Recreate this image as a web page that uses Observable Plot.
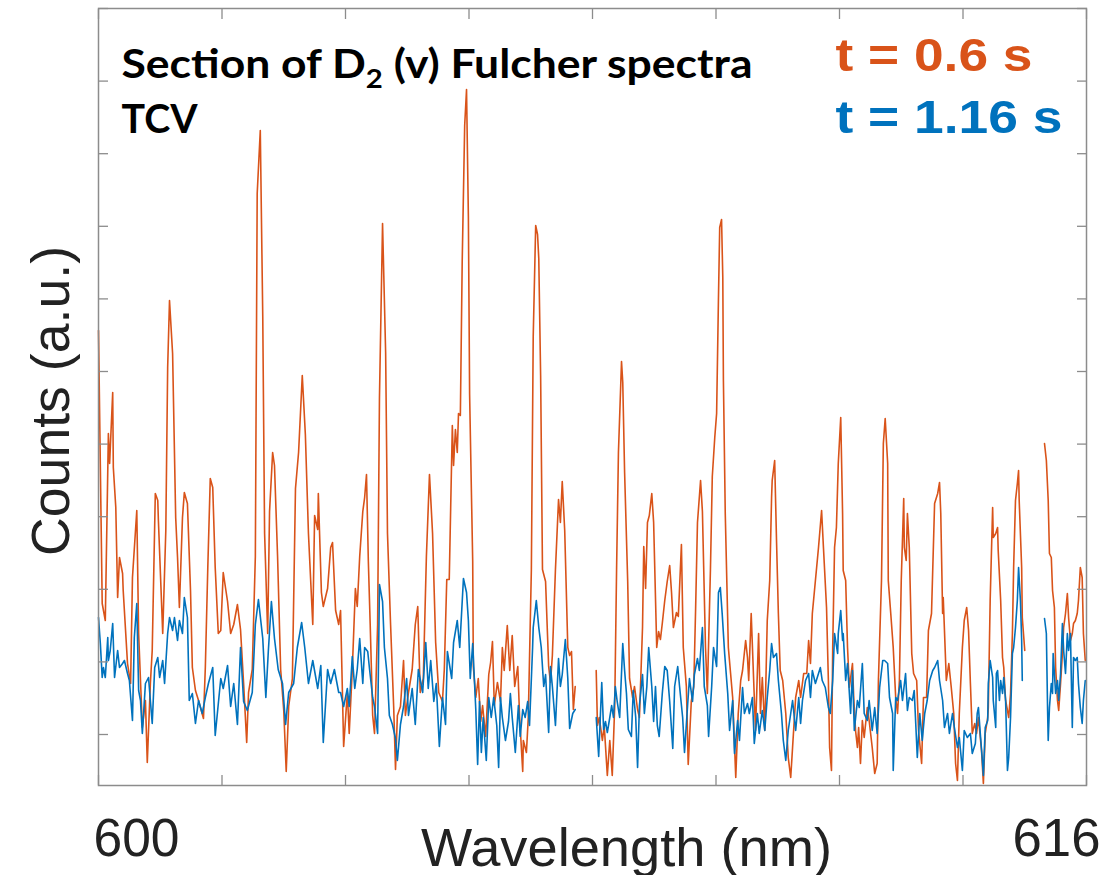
<!DOCTYPE html>
<html>
<head>
<meta charset="utf-8">
<script src="https://cdn.jsdelivr.net/npm/d3@7"></script>
<script src="https://cdn.jsdelivr.net/npm/@observablehq/plot@0.6"></script>
<style>
  html, body { margin: 0; padding: 0; background: #fff; }
  #chart { width: 1119px; height: 875px; }
</style>
</head>
<body>
<div id="chart"></div>
<script>
// ---------------- data ----------------
// wavelength in nm; counts in arbitrary units; null = no data (detector gap)
const orangeWl = [
600.00,600.06,600.11,600.16,600.18,600.23,600.24,600.28,600.31,600.34,
600.39,600.40,600.47,600.52,600.55,600.62,600.65,600.71,600.76,600.79,
600.84,600.87,600.92,600.96,600.97,601.04,601.09,601.12,601.15,601.20,
601.25,601.28,601.31,601.36,601.39,601.44,601.49,601.52,601.57,601.62,
601.70,601.73,601.77,601.81,601.85,601.89,601.94,601.98,602.02,602.09,
602.14,602.19,602.25,602.30,602.35,602.40,602.43,602.49,602.54,602.57,
602.62,602.66,602.69,602.74,602.77,602.82,602.85,602.90,602.95,603.00,
603.04,603.08,603.14,603.19,603.24,603.30,603.35,603.40,603.47,603.50,
603.55,603.56,603.61,603.64,603.71,603.76,603.79,603.84,603.89,603.92,
603.97,604.03,604.06,604.11,604.16,604.19,604.23,604.28,604.31,604.34,
604.37,604.40,604.44,604.47,604.52,604.55,604.60,604.65,604.68,604.73,
604.78,604.81,604.84,604.89,604.94,604.97,605.02,605.08,605.13,605.17,
605.21,605.26,605.31,605.36,605.41,605.46,605.51,605.57,605.60,605.64,
605.68,605.73,605.75,605.78,605.81,605.83,605.86,605.89,605.93,605.96,
605.99,606.01,606.06,606.07,606.11,606.15,606.19,606.22,606.27,606.32,
606.35,606.38,606.41,606.46,606.51,606.54,606.57,606.62,606.66,606.70,
606.74,606.79,606.82,606.87,606.88,606.93,606.96,607.01,607.04,607.08,
607.11,607.13,607.16,607.19,607.24,607.29,607.32,607.35,607.40,607.45,
607.48,607.51,607.55,607.60,607.63,607.66,607.69,607.72,607.90,
608.06,608.08,608.11,608.16,608.19,608.24,608.28,608.32,608.36,608.39,
608.42,608.47,608.49,608.52,608.57,608.60,608.65,608.68,608.73,608.76,
608.81,608.83,608.86,608.89,608.92,608.96,608.99,609.04,609.07,609.10,
609.13,609.17,609.21,609.25,609.28,609.31,609.36,609.39,609.44,609.47,
609.52,609.55,609.60,609.64,609.67,609.70,609.75,609.78,609.83,609.86,
609.91,609.94,609.98,610.01,610.04,610.06,610.09,610.11,610.12,610.15,
610.20,610.27,610.32,610.36,610.40,610.43,610.48,610.51,610.53,610.57,
610.61,610.64,610.69,610.72,610.75,610.79,610.83,610.87,610.90,610.91,
610.95,610.98,611.01,611.04,611.08,611.13,611.17,611.21,611.24,611.29,
611.34,611.37,611.42,611.47,611.50,611.53,611.56,611.61,611.66,611.71,
611.74,611.79,611.82,611.84,611.87,611.89,611.92,611.95,611.98,612.02,
612.05,612.06,612.10,612.13,612.16,612.21,612.23,612.26,612.29,612.31,
612.34,612.37,612.40,612.45,612.48,612.53,612.57,612.61,612.63,612.68,
612.71,612.74,612.78,612.79,612.83,612.87,612.91,612.94,612.97,613.00,
613.04,613.05,613.08,613.10,613.13,613.17,613.20,613.25,613.28,613.33,
613.36,613.41,613.44,613.49,613.52,613.54,613.59,613.62,613.64,613.67,
613.68,613.73,613.77,613.81,613.85,613.88,613.91,613.94,613.99,614.02,
614.06,614.09,614.12,614.15,614.19,614.22,614.25,614.30,614.33,614.36,
614.40,614.41,614.44,614.48,614.49,614.53,614.56,614.57,614.61,614.64,
614.66,614.69,614.72,614.74,614.77,614.80,614.82,614.85,614.88,614.90,
614.91,614.95,614.96,615.00,615.15,
615.32,615.35,615.38,615.40,615.43,615.45,615.48,615.50,615.53,615.55,
615.58,615.61,615.63,615.66,615.69,615.71,615.74,615.77,615.79,615.82,
615.85,615.87,615.90,615.93,615.95,615.98
];
const orangeCounts = [
455,182,165,352,322,393,318,278,188,228,
212,195,122,102,208,275,152,58,85,23,
102,135,292,285,265,152,255,418,485,432,
268,228,178,268,293,282,195,118,95,85,
67,118,218,307,298,218,152,155,213,184,
152,161,181,156,102,43,93,116,229,592,
655,469,252,152,274,333,320,229,116,75,
14,79,107,297,333,410,351,252,161,270,
256,292,193,179,197,238,243,175,161,175,
39,93,52,116,197,179,229,274,288,311,
224,161,70,52,161,388,562,433,252,161,
79,16,70,79,125,70,93,116,161,179,
93,107,229,311,252,143,93,84,116,206,
206,360,320,356,333,372,370,524,660,696,
569,391,224,119,88,107,64,80,49,111,
123,144,80,103,84,138,115,160,115,150,
99,119,68,14,45,33,68,216,449,560,
551,527,410,216,204,119,103,130,216,286,
263,304,255,138,130,134,76,99,null,
115,60,68,45,60,10,45,10,80,216,
333,424,403,313,204,107,88,99,76,68,
158,239,197,263,270,292,263,138,154,146,
162,185,204,220,193,158,173,169,241,138,
99,21,84,99,177,263,305,274,138,92,
216,309,348,372,488,558,566,508,405,272,
138,88,8,72,105,115,145,128,105,172,
105,55,152,72,108,55,165,205,288,305,
325,245,172,115,105,72,28,8,38,88,
105,88,112,112,145,122,172,205,238,275,
238,178,105,38,15,138,238,258,322,368,
272,215,205,138,98,122,88,55,38,58,
22,65,48,78,65,38,12,22,105,205,
342,367,322,205,172,138,88,72,105,205,
287,238,225,272,238,132,112,105,55,22,
88,88,155,172,238,282,292,303,272,172,
188,105,122,98,72,22,5,72,138,165,
178,155,102,52,62,52,68,35,2,52,
68,78,185,278,248,252,258,235,185,128,
118,85,75,68,92,152,218,285,302,315,
285,218,168,135,null,
342,325,285,232,228,195,178,118,85,75,
102,132,158,172,192,168,145,152,162,165,
172,185,218,208,152,125
];

const blueWl = [
600.00,600.03,600.06,600.08,600.11,600.15,600.16,600.19,600.23,600.26,
600.31,600.34,600.39,600.42,600.47,600.50,600.55,600.58,600.62,600.65,
600.68,600.71,600.76,600.81,600.87,600.91,600.96,600.99,601.04,601.07,
601.12,601.15,601.20,601.23,601.28,601.31,601.36,601.39,601.44,601.47,
601.52,601.57,601.62,601.68,601.73,601.78,601.85,601.89,601.98,602.02,
602.09,602.14,602.19,602.25,602.30,602.35,602.41,602.49,602.54,602.59,
602.66,602.71,602.75,602.80,602.85,602.91,602.98,603.03,603.08,603.16,
603.22,603.29,603.34,603.40,603.47,603.55,603.60,603.64,603.71,603.76,
603.82,603.89,603.92,603.97,604.03,604.06,604.11,604.15,604.19,604.23,
604.28,604.31,604.36,604.39,604.44,604.47,604.52,604.55,604.60,604.63,
604.68,604.71,604.76,604.81,604.84,604.89,604.94,604.99,605.02,605.08,
605.13,605.18,605.25,605.30,605.34,605.38,605.43,605.47,605.52,605.57,
605.62,605.65,605.72,605.75,605.81,605.85,605.89,605.91,605.96,605.99,
606.02,606.06,606.11,606.14,606.17,606.20,606.23,606.28,606.32,606.36,
606.40,606.45,606.48,606.51,606.54,606.59,606.64,606.67,606.70,606.75,
606.80,606.83,606.87,606.91,606.95,606.98,607.03,607.04,607.09,607.13,
607.17,607.21,607.24,607.29,607.32,607.35,607.40,607.45,607.48,607.51,
607.56,607.60,607.63,607.68,607.72,607.90,
608.06,608.10,608.15,608.18,608.21,608.24,608.28,608.31,608.34,608.37,
608.40,608.44,608.49,608.52,608.55,608.58,608.63,608.66,608.70,608.73,
608.76,608.81,608.84,608.88,608.91,608.96,608.99,609.02,609.05,609.08,
609.13,609.17,609.21,609.25,609.30,609.33,609.38,609.41,609.46,609.49,
609.54,609.57,609.62,609.65,609.70,609.73,609.78,609.81,609.86,609.88,
609.93,609.96,610.01,610.04,610.07,610.10,610.14,610.19,610.22,610.27,
610.30,610.35,610.38,610.43,610.46,610.51,610.54,610.59,610.62,610.67,
610.70,610.75,610.79,610.83,610.87,610.90,610.93,610.98,611.01,611.06,
611.09,611.13,611.17,611.21,611.24,611.29,611.34,611.37,611.40,611.45,
611.50,611.53,611.56,611.61,611.66,611.69,611.72,611.77,611.82,611.85,
611.89,611.92,611.97,611.98,612.02,612.05,612.06,612.10,612.13,612.18,
612.21,612.24,612.29,612.32,612.37,612.40,612.45,612.48,612.53,612.57,
612.61,612.65,612.70,612.73,612.78,612.81,612.86,612.87,612.91,612.94,
612.99,613.02,613.07,613.10,613.13,613.18,613.21,613.26,613.30,613.34,
613.38,613.42,613.46,613.51,613.54,613.59,613.62,613.67,613.70,613.75,
613.78,613.83,613.86,613.91,613.94,613.99,614.02,614.07,614.12,614.15,
614.20,614.23,614.25,614.28,614.31,614.33,614.36,614.40,614.41,614.44,
614.48,614.49,614.53,614.54,614.56,614.59,614.61,614.64,614.66,614.69,
614.72,614.74,614.77,614.80,614.82,614.85,614.88,614.90,614.93,614.95,614.96,615.15,
615.32,615.35,615.37,615.38,615.40,615.43,615.45,615.46,615.50,615.53,
615.55,615.58,615.61,615.63,615.66,615.69,615.71,615.74,615.77,615.79,
615.82,615.85,615.87,615.90,615.93,615.95,615.98
];
const blueCounts = [
168,142,108,118,108,148,125,135,162,108,
135,118,122,125,112,105,65,148,182,95,
85,52,102,108,62,118,128,108,125,102,
152,168,155,168,145,165,152,188,168,85,
92,62,85,72,88,102,118,50,107,97,
120,79,102,61,138,84,75,93,161,186,
147,88,134,184,147,116,102,61,93,102,
138,163,138,102,125,97,120,43,116,102,
116,93,93,79,97,79,129,97,116,147,
102,138,134,116,88,79,52,201,184,138,
107,70,61,47,25,61,79,107,70,97,
61,116,93,143,97,125,84,102,39,88,
61,134,107,143,165,138,184,207,193,165,
107,142,76,21,84,33,68,25,88,68,
88,60,18,88,68,45,64,92,68,33,
80,49,76,68,84,60,138,158,185,158,
138,99,111,53,119,99,60,127,99,111,
146,107,57,72,76,null,
68,29,103,56,64,53,68,80,68,99,
84,68,142,115,92,56,49,95,68,18,
80,111,72,99,138,99,64,99,60,49,
92,119,115,84,37,99,119,99,68,33,
80,107,84,111,127,115,158,99,80,49,
99,138,119,193,198,172,132,92,55,85,
32,65,45,98,72,82,72,88,42,72,
52,75,55,88,115,142,128,132,105,72,
45,25,55,72,85,55,88,62,85,105,
112,88,115,102,112,118,105,98,78,72,
105,152,132,152,175,145,152,105,122,72,
115,55,85,78,122,72,65,85,55,78,
52,98,125,125,122,88,72,15,88,85,
105,85,112,75,88,85,95,28,72,45,
72,85,105,115,118,125,105,85,58,72,
52,72,58,38,48,15,55,48,52,32,
42,72,78,52,28,10,58,65,102,125,
108,85,58,112,115,85,105,92,108,85,
15,28,68,132,138,158,185,218,185,145,105,null,
167,152,75,45,78,102,92,132,92,105,
85,112,162,135,112,152,135,152,58,128,
125,128,102,78,62,85,105
];

const seriesLabels = ["t = 0.6 s", "t = 1.16 s"];
const seriesColors = ["#D95319", "#0072BD"];
const titleParts = ["Section of D", "2", " (v) Fulcher spectra"];
const titleLine2 = "TCV";
const xLabel = "Wavelength (nm)";
const yLabel = "Counts (a.u.)";
const xTicks = [600, 602, 604, 606, 608, 610, 612, 614, 616];
const xTickLabels = [600, 616];
const yTicks = [51, 123.6, 196.2, 268.8, 341.4, 414, 486.6, 559.2, 631.8, 704.4, 777];

// ---------------- chart ----------------
const toRows = (wl, c) => wl.map((w, i) => ({wl: w, counts: c[i] == null ? NaN : c[i]}));
const orange = toRows(orangeWl, orangeCounts);
const blue = toRows(blueWl, blueCounts);

const gray = "#8c8c8c";
const sans = "'Liberation Sans', Arial, Helvetica, sans-serif";
const titleFont = "Lato, 'Open Sans', 'Noto Sans', sans-serif";
const titleText = titleParts.join("");
const noLabel = () => "";

const chart = Plot.plot({
  width: 1119,
  height: 875,
  marginLeft: 98,
  marginRight: 33,
  marginTop: 8,
  marginBottom: 90,
  style: {background: "#fff", fontFamily: sans, overflow: "visible"},
  x: {type: "linear", domain: [600, 616]},
  y: {type: "linear", domain: [0, 777]},
  marks: [
    Plot.line(orange, {x: "wl", y: "counts", stroke: seriesColors[0], strokeWidth: 1.6}),
    Plot.line(blue, {x: "wl", y: "counts", stroke: seriesColors[1], strokeWidth: 1.6}),
    Plot.frame({stroke: gray, strokeWidth: 1.5}),
    Plot.axisX(xTicks, {anchor: "bottom", tickSize: -10, tickFormat: noLabel, label: null, stroke: gray, strokeWidth: 1.3}),
    Plot.axisX(xTicks, {anchor: "top", tickSize: -10, tickFormat: noLabel, label: null, stroke: gray, strokeWidth: 1.3}),
    Plot.axisY(yTicks, {anchor: "left", tickSize: -10, tickFormat: noLabel, label: null, stroke: gray, strokeWidth: 1.3}),
    Plot.axisY(yTicks, {anchor: "right", tickSize: -10, tickFormat: noLabel, label: null, stroke: gray, strokeWidth: 1.3}),
    // title inside the plot
    Plot.text([titleText], {text: d => d, frameAnchor: "top-left", textAnchor: "start", lineAnchor: "bottom",
      dx: 23, dy: 69, fontSize: 41, fontWeight: "bold", fontFamily: titleFont, fill: "#000"}),
    Plot.text([titleLine2], {text: d => d, frameAnchor: "top-left", textAnchor: "start", lineAnchor: "bottom",
      dx: 23, dy: 124, fontSize: 41, fontWeight: "bold", fontFamily: titleFont, fill: "#000"}),
    // legend
    Plot.text([seriesLabels[0]], {text: d => d, frameAnchor: "top-left", textAnchor: "start", lineAnchor: "bottom",
      dx: 737, dy: 62, fontSize: 46, fontWeight: "bold", fontFamily: sans, fill: seriesColors[0]}),
    Plot.text([seriesLabels[1]], {text: d => d, frameAnchor: "top-left", textAnchor: "start", lineAnchor: "bottom",
      dx: 737, dy: 124, fontSize: 46, fontWeight: "bold", fontFamily: sans, fill: seriesColors[1]}),
    // axis labels
    Plot.text([yLabel], {text: d => d, frameAnchor: "left", rotate: -90, textAnchor: "middle", lineAnchor: "bottom",
      dx: -30, dy: 4, fontSize: 53, fontFamily: sans, fill: "#222"}),
    Plot.text([xLabel], {text: d => d, frameAnchor: "bottom", textAnchor: "middle", lineAnchor: "bottom",
      dx: 34, dy: 80, fontSize: 53, fontFamily: sans, fill: "#222"}),
    Plot.text([xTickLabels[0]], {x: d => d, text: d => String(d), frameAnchor: "bottom", textAnchor: "start", lineAnchor: "bottom",
      dx: -5, dy: 70, fontSize: 53, fontFamily: sans, fill: "#222"}),
    Plot.text([xTickLabels[1]], {x: d => d, text: d => String(d), frameAnchor: "bottom", textAnchor: "end", lineAnchor: "bottom",
      dx: 14, dy: 70, fontSize: 53, fontFamily: sans, fill: "#222"})
  ]
});

// ---------------- text fitting / subscript ----------------
const root = d3.select(chart);
function fit(str, len, adjust) {
  root.selectAll("text").filter(function () { return this.textContent === str; })
    .attr("textLength", len).attr("lengthAdjust", adjust);
}
root.selectAll("text").filter(function () { return this.textContent === titleText; }).each(function () {
  const t = d3.select(this);
  t.text(null);
  t.append("tspan").text(titleParts[0]);
  t.append("tspan").attr("dy", 10).attr("font-size", 27).text(titleParts[1]);
  t.append("tspan").attr("dy", -10).text(titleParts[2]);
  t.attr("textLength", 631).attr("lengthAdjust", "spacingAndGlyphs");
});
fit(titleLine2, 76, "spacingAndGlyphs");
fit(seriesLabels[0], 197, "spacingAndGlyphs");
fit(seriesLabels[1], 227, "spacingAndGlyphs");
fit(xLabel, 411, "spacingAndGlyphs");
fit(yLabel, 310, "spacingAndGlyphs");
fit(String(xTickLabels[0]), 86, "spacingAndGlyphs");
fit(String(xTickLabels[1]), 88, "spacingAndGlyphs");

document.getElementById("chart").appendChild(chart);
</script>
</body>
</html>
